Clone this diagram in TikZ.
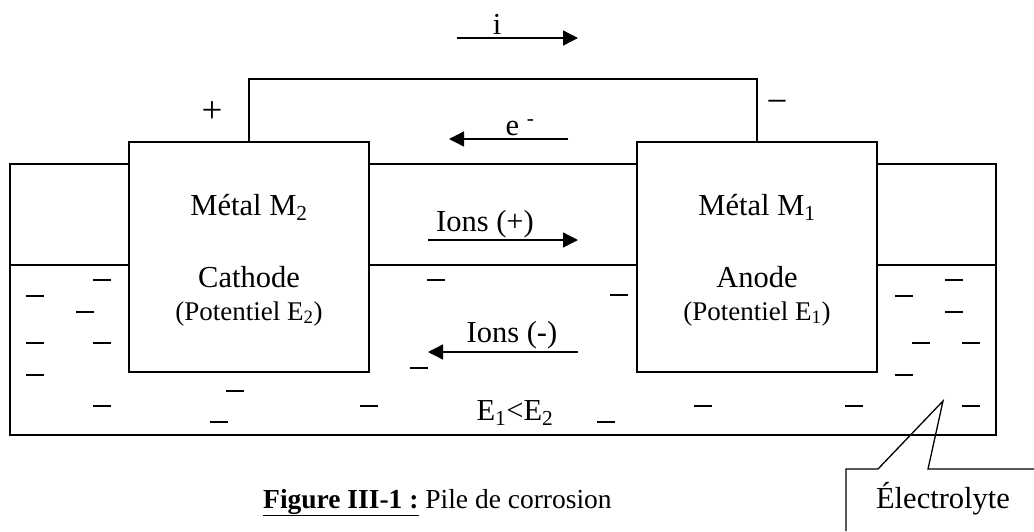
\documentclass[tikz,border=0pt]{standalone}
\usepackage{fontspec}
\setmainfont{Liberation Serif}
\usetikzlibrary{arrows.meta, positioning}

\begin{document}
\begin{tikzpicture}[
	x=1pt, y=-1pt,
	every node/.style={font=\fontsize{30.5}{35}\selectfont, align=center, inner sep=0pt},
	metal/.style={rectangle, draw, line width=1.6pt, fill=white, minimum width=240pt, minimum height=230pt},
	wall/.style={line width=1.6pt},
	flow/.style={-{Triangle[length=15pt, width=15pt]}, line width=1.4pt},
	ion/.style={line width=1.8pt},
	small/.style={font=\fontsize{27}{32}\selectfont},
	sign/.style={font=\fontsize{37}{40}\selectfont}
	]
	\useasboundingbox (0,0) rectangle (1034,531);
	
	% cuve et electrolyte
	\draw[wall] (10,164) rectangle (996,435);
	\draw[wall] (10,265) -- (996,265);
	
	% electrodes
	\node[metal] (cathode) at (249,257) {};
	\node[metal] (anode) at (757,257) {};
	\draw[wall] (cathode.north) -- ++(0,-62) -| (anode.north);
	
	\node[anchor=base] (m2) at (249,215) {Métal M\textsubscript{2}};
	\node[anchor=base] (cath) at (249,287) {Cathode};
	\node[small, anchor=base] (pot2) at (249,320) {(Potentiel E\textsubscript{2})};
	\node[anchor=base] (m1) at (757,215) {Métal M\textsubscript{1}};
	\node[anchor=base] (anod) at (757,287) {Anode};
	\node[small, anchor=base] (pot1) at (757,320) {(Potentiel E\textsubscript{1})};
	
	% polarites
	\node[sign] (plus) at (212,112) {+};
	\node[sign] (moins) at (777,107) {−};
	
	% courant et electrons
	\coordinate (i0) at (457,38);
	\coordinate (i1) at (578,38);
	\draw[flow] (i0) -- (i1);
	\node[anchor=base] (i) at (497,34) {i};
	\coordinate (e0) at (568,139);
	\coordinate (e1) at (449,139);
	\draw[flow] (e0) -- (e1);
	\node[anchor=base] (e) at (520,135) {e \textsuperscript{-}};
	
	% ions
	\coordinate (p0) at (428,240);
	\coordinate (p1) at (578,240);
	\draw[flow] (p0) -- (p1);
	\node[anchor=base] (ionsp) at (485,231) {Ions (+)};
	\coordinate (n0) at (578,352);
	\coordinate (n1) at (428,352);
	\draw[flow] (n0) -- (n1);
	\node[anchor=base] (ionsn) at (512,342) {Ions (-)};
	\node[anchor=base] (ineg) at (515,420) {E\textsubscript{1}<E\textsubscript{2}};
	
	% charges negatives
	\foreach \x/\y in {102/280, 35/296, 85/312, 35/343, 102/343, 35/375, 102/406,
		235/391, 219/422, 369/406, 436/280, 619/295, 419/368,
		703/406, 854/406, 606/422,
		954/280, 904/296, 954/312, 921/343, 971/343, 904/375, 971/406}
		\draw[ion] (\x-9,\y) -- (\x+9,\y);
	
	% legende
	\coordinate (tip) at (943,401);
	\node[anchor=base] (electrolyte) at (943,508) {Électrolyte};
	\draw[line width=1.3pt] (846,531) -- (846,469) -- (878,469) -- (tip) -- (928,469) -- (1034,469);
	
	\node[anchor=base west, font=\fontsize{27.5}{32}\selectfont] (caption) at (263,508) {\underline{\textbf{Figure III-1 :}} Pile de corrosion};
\end{tikzpicture}
\end{document}
